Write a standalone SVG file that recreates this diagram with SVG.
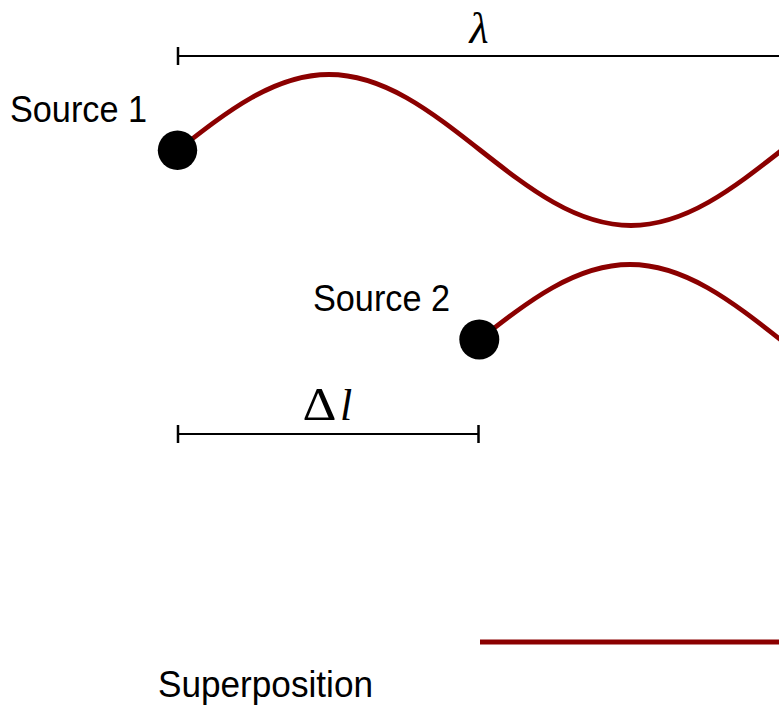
<svg xmlns="http://www.w3.org/2000/svg" width="779" height="707" viewBox="0 0 779 707">
<style>
.wave{fill:none;stroke:#8b0000;stroke-width:4.8;stroke-linecap:butt}
.bar{fill:none;stroke:#000;stroke-width:2}
.tick{fill:none;stroke:#000;stroke-width:2.5}
.lbl{font-family:"Liberation Sans",Arial,sans-serif;font-size:36px;fill:#000}
.math{font-family:"Liberation Serif","Times New Roman",serif;fill:#000}
</style>
<rect width="779" height="707" fill="#fff"/>
<g id="connectors">
<path class="wave" d="M178,150 c49.25,-38.68 96.35,-75.5 151,-75.5 c54.65,0 101.75,36.82 151,75.5 c49.25,38.68 96.35,75.5 151,75.5 c54.65,0 101.75,-36.82 151,-75.5"/>
<path class="wave" d="M479,340 c49.25,-38.68 96.35,-75.5 151,-75.5 c54.65,0 101.75,36.82 151,75.5 c49.25,38.68 96.35,75.5 151,75.5"/>
<path class="wave" d="M480,642 H800"/>
</g>
<g id="lambda-bar">
<path class="bar" d="M178,56 H782"/>
<path class="tick" d="M178,47 V65 M782,47 V65"/>
<text class="math" x="479" y="43" font-size="44" font-style="italic" text-anchor="middle">λ</text>
</g>
<g id="source1">
<circle cx="177.5" cy="150.3" r="19.7" fill="#000"/>
<text class="lbl" x="10" y="122" textLength="137" lengthAdjust="spacingAndGlyphs">Source 1</text>
</g>
<g id="source2">
<circle cx="479.3" cy="339.5" r="20" fill="#000"/>
<text class="lbl" x="313" y="311" textLength="137" lengthAdjust="spacingAndGlyphs">Source 2</text>
</g>
<g id="delta-bar">
<path class="bar" d="M178,434 H478.5"/>
<path class="tick" d="M178,425 V443 M478.5,425 V443"/>
<text class="math" x="302.5" y="420" font-size="46" font-family="'DejaVu Serif',serif" textLength="34" lengthAdjust="spacingAndGlyphs">Δ</text>
<text class="math" x="340" y="420" font-size="44" font-style="italic">l</text>
</g>
<g id="superposition">
<text class="lbl" x="158" y="697" textLength="215" lengthAdjust="spacingAndGlyphs">Superposition</text>
</g>
</svg>
